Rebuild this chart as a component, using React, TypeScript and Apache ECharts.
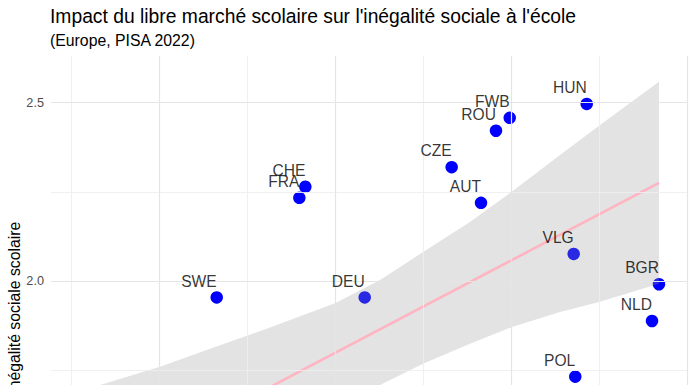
import React, { useEffect, useRef } from "react";
import * as echarts from "echarts";

// Countries and values
const countries = ["SWE", "FRA", "CHE", "DEU", "CZE", "AUT", "ROU", "FWB", "HUN", "VLG", "BGR", "NLD", "POL"];
const marketIndex = [0.2655, 0.3593, 0.3661, 0.4335, 0.5322, 0.5655, 0.5825, 0.5981, 0.6855, 0.6707, 0.7675, 0.7596, 0.6725];
const inequality = [1.954, 2.233, 2.264, 1.954, 2.319, 2.219, 2.421, 2.457, 2.496, 2.076, 1.991, 1.888, 1.732];

// Fitted line (geom_smooth, method lm) endpoints
const fitX = [0.0876, 0.7675];
const fitY = [1.394, 2.275];

// Confidence band
const bandX = [0.0876, 0.133, 0.2011, 0.2636, 0.326, 0.3998, 0.4509, 0.4997, 0.553, 0.6007, 0.6552, 0.7006, 0.7675];
const bandUpper = [1.675, 1.709, 1.76, 1.815, 1.87, 1.938, 2.003, 2.081, 2.165, 2.251, 2.353, 2.437, 2.558];
const bandLower = [1.115, 1.199, 1.322, 1.429, 1.535, 1.658, 1.709, 1.768, 1.824, 1.871, 1.913, 1.942, 1.992];

// Grid breaks
const xMajor = [0.2, 0.4, 0.6, 0.8];
const xMinor = [0.1, 0.3, 0.5, 0.7];
const yMajor = [1.5, 2.0, 2.5];
const yMinor = [1.25, 1.75, 2.25];

const title = "Impact du libre marché scolaire sur l'inégalité sociale à l'école";
const subtitle = "(Europe, PISA 2022)";
const yName = "Inégalité sociale scolaire";

const FONT = "'Liberation Sans', Arial, Helvetica, sans-serif";

export default function App() {
  const ref = useRef<HTMLDivElement>(null);
  useEffect(() => {
    if (!ref.current) return;
    const chart = echarts.init(ref.current, null, { renderer: "svg" });
    const majorStyle = { color: "#E5E5E5", width: 1.2, type: "solid" };
    const minorStyle = { color: "#EEEEEE", width: 0.9, type: "solid" };
    const gridLines = [
      ...xMinor.map((v) => ({ xAxis: v, lineStyle: minorStyle })),
      ...yMinor.map((v) => ({ yAxis: v, lineStyle: minorStyle })),
      ...xMajor.map((v) => ({ xAxis: v, lineStyle: majorStyle })),
      ...yMajor.map((v) => ({ yAxis: v, lineStyle: majorStyle })),
    ];
    const points = countries.map((c, i) => ({ name: c, value: [marketIndex[i], inequality[i]] }));
    chart.setOption({
      animation: false,
      backgroundColor: "#ffffff",
      textStyle: { fontFamily: FONT },
      title: {
        text: title,
        subtext: subtitle,
        left: 50,
        top: 7,
        itemGap: 6,
        padding: 0,
        textStyle: { fontSize: 19.3, fontWeight: "normal", color: "#000", fontFamily: FONT },
        subtextStyle: { fontSize: 15.8, color: "#000", fontFamily: FONT },
      },
      grid: { left: 51, right: 8.4, top: 56, bottom: 22 },
      xAxis: {
        type: "value",
        min: 0.07741,
        max: 0.8,
        show: false,
        splitLine: { show: false },
      },
      yAxis: {
        type: "value",
        min: 1.0,
        max: 2.6303,
        interval: 0.5,
        axisLine: { show: false },
        axisTick: { show: false },
        splitLine: { show: false },
        axisLabel: {
          formatter: (v: number) => v.toFixed(1),
          color: "#4D4D4D",
          fontSize: 12.7,
          margin: 7,
          showMaxLabel: false,
          fontFamily: FONT,
        },
      },
      graphic: [
        {
          type: "text",
          x: 14,
          y: 307.7,
          rotation: Math.PI / 2,
          style: {
            text: yName,
            fontSize: 15.8,
            fill: "#000",
            textAlign: "center",
            textVerticalAlign: "middle",
            fontFamily: FONT,
          },
        },
      ],
      series: [
        {
          type: "line",
          data: [],
          z: 1,
          silent: true,
          markLine: {
            silent: true,
            symbol: ["none", "none"],
            label: { show: false },
            emphasis: { disabled: true },
            data: gridLines,
          },
        },
        {
          type: "scatter",
          z: 2,
          symbolSize: 12.5,
          itemStyle: { color: "#0000FF", opacity: 1 },
          data: points,
          label: { show: false },
        },
        {
          type: "custom",
          z: 3,
          silent: true,
          clip: true,
          data: [[bandX[0], bandUpper[0]]],
          renderItem: (_params: any, api: any) => {
            const pts: number[][] = [];
            for (let i = 0; i < bandX.length; i++) pts.push(api.coord([bandX[i], bandUpper[i]]));
            for (let i = bandX.length - 1; i >= 0; i--) pts.push(api.coord([bandX[i], bandLower[i]]));
            return {
              type: "polygon",
              shape: { points: pts },
              style: { fill: "rgba(153,153,153,0.27)", stroke: "none" },
            };
          },
        },
        {
          type: "line",
          z: 4,
          silent: true,
          showSymbol: false,
          symbol: "none",
          data: fitX.map((x, i) => [x, fitY[i]]),
          lineStyle: { color: "#FFB4C2", width: 2.6 },
        },
        {
          type: "scatter",
          z: 5,
          silent: true,
          symbolSize: 12.5,
          itemStyle: { color: "rgba(0,0,0,0)" },
          data: points,
          label: {
            show: true,
            formatter: "{b}",
            position: [6.25, -10.15],
            align: "right",
            verticalAlign: "middle",
            fontSize: 15.6,
            color: "#000",
            textBorderWidth: 0,
            textBorderColor: "transparent",
            fontFamily: FONT,
          },
        },
      ],
    });
    return () => chart.dispose();
  }, []);
  return (
    <div
      style={{
        position: "fixed",
        left: 0,
        top: 0,
        width: 696,
        height: 385,
        overflow: "hidden",
        background: "#fff",
      }}
    >
      <div ref={ref} style={{ width: 696, height: 660 }} />
    </div>
  );
}
